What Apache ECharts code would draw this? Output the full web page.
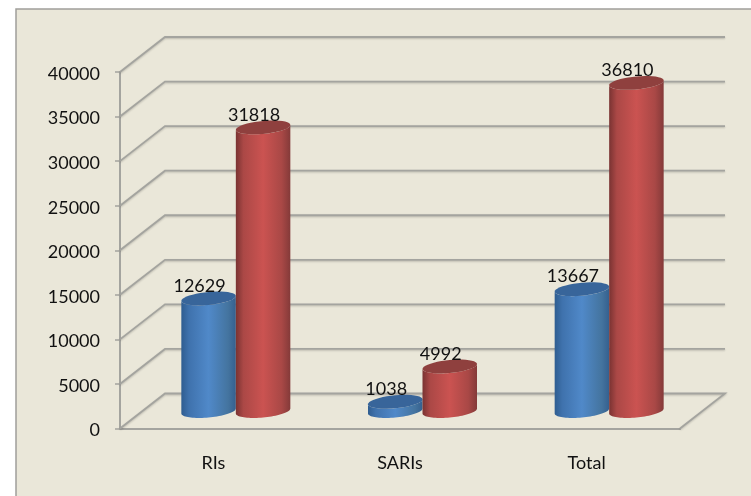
<!DOCTYPE html>
<html>
<head>
<meta charset="utf-8">
<style>
  html, body { margin: 0; padding: 0; background: #fff; }
  #chart { width: 751px; height: 496px; }
</style>
<script src="https://cdn.jsdelivr.net/npm/echarts@6/dist/echarts.min.js"></script>
</head>
<body>
<div id="chart"></div>
<script>
const categories = ['RIs', 'SARIs', 'Total'];
const blueValues = [12629, 1038, 13667];
const redValues = [31818, 4992, 36810];
const yTicks = [0, 5000, 10000, 15000, 20000, 25000, 30000, 35000, 40000];

// fake 3d: how far the back wall sits from the front axes
const DEPTH_X = 45;
const DEPTH_Y = -35;
const BAR_W = 54.5;
const RX = BAR_W / 2;
const RY = 6.5;
const TILT = -0.09;
const GRID_COLOR = '#a4a49f';
const FONT = 'Lato';

const ellipsePoints = (cx, cy, from, to) => {
  const pts = [];
  for (let i = 0; i <= 40; i++) {
    const t = from + ((to - from) * i) / 40;
    const x = RX * Math.cos(t);
    const y = RY * Math.sin(t);
    pts.push([cx + x, cy + y + x * TILT]);
  }
  return pts;
};

const sideGradient = (stops) => ({
  type: 'linear', x: 0, y: 0, x2: 1, y2: 0,
  colorStops: stops.map(([offset, color]) => ({ offset, color }))
});

const cylinder = (side, top, shift) => (params, api) => {
  const base = api.coord([api.value(0), 0]);
  const head = api.coord([api.value(0), api.value(1)]);
  const cx = base[0] + DEPTH_X / 2 + shift;
  const y0 = base[1] + DEPTH_Y / 2;
  const y1 = head[1] + DEPTH_Y / 2;
  const body = ellipsePoints(cx, y0, Math.PI, 0).concat(ellipsePoints(cx, y1, 0, Math.PI));
  return {
    type: 'group',
    children: [
      { type: 'polygon', shape: { points: body }, style: { fill: sideGradient(side) } },
      { type: 'polygon', shape: { points: ellipsePoints(cx, y1, 0, Math.PI * 2) }, style: { fill: top } },
      {
        type: 'text',
        style: {
          x: cx - 9,
          y: y1 - 12.7,
          text: String(api.value(1)),
          fill: '#111',
          font: '18px ' + FONT,
          align: 'center',
          verticalAlign: 'middle'
        }
      }
    ]
  };
};

const blueSide = [[0, '#2f5d90'], [0.14, '#3f72ad'], [0.5, '#5089c9'], [0.86, '#44749f'], [1, '#35608f']];
const redSide = [[0, '#7a3332'], [0.14, '#ab4846'], [0.5, '#cb5351'], [0.84, '#a94846'], [1, '#843a39']];

const chart = echarts.init(document.getElementById('chart'), null, { renderer: 'canvas' });

chart.setOption({
  animation: false,
  textStyle: { fontFamily: FONT },
  graphic: [
    {
      type: 'rect',
      z: -10,
      shape: { x: 16, y: 9, width: 760, height: 510 },
      style: { fill: '#eae7d9', stroke: '#a09f9a', lineWidth: 1.5 }
    }
  ],
  grid: { left: 120, right: 71, top: 72, bottom: 67.5 },
  xAxis: {
    type: 'category',
    data: categories,
    axisLine: { lineStyle: { color: GRID_COLOR, width: 2 } },
    axisTick: { length: 7, lineStyle: { color: GRID_COLOR, width: 1.5 } },
    axisLabel: { color: '#111', fontSize: 18, margin: 26, fontFamily: FONT }
  },
  yAxis: {
    type: 'value',
    min: 0,
    max: 40000,
    interval: 5000,
    splitLine: { show: false },
    axisLine: { show: true, lineStyle: { color: GRID_COLOR, width: 2 } },
    axisTick: { show: true, length: 5, lineStyle: { color: GRID_COLOR, width: 1.5 } },
    axisLabel: { color: '#111', fontSize: 18, margin: 20, lineHeight: 4, verticalAlign: 'top', fontFamily: FONT, formatter: (v) => String(v) }
  },
  series: [
    {
      // side wall + back wall lines for every y tick
      type: 'custom',
      silent: true,
      z: 1,
      data: yTicks.map((v) => [v]),
      encode: { y: 0 },
      renderItem: (params, api) => {
        const left = api.coord([0, api.value(0)]);
        const box = params.coordSys;
        const xa = box.x;
        const xb = box.x + box.width;
        return {
          type: 'polyline',
          shape: {
            points: [
              [xa, left[1]],
              [xa + DEPTH_X, left[1] + DEPTH_Y],
              [xb + DEPTH_X, left[1] + DEPTH_Y]
            ].concat(api.value(0) === 0 ? [[xb, left[1]]] : [])
          },
          style: { stroke: GRID_COLOR, lineWidth: 1.8, fill: null, shadowBlur: 2, shadowColor: 'rgba(0,0,0,0.2)', shadowOffsetY: 1 }
        };
      }
    },
    {
      name: 'blue',
      type: 'custom',
      z: 3,
      data: blueValues.map((v, i) => [i, v]),
      encode: { x: 0, y: 1 },
      renderItem: cylinder(blueSide, '#38659a', -RX)
    },
    {
      name: 'red',
      type: 'custom',
      z: 4,
      data: redValues.map((v, i) => [i, v]),
      encode: { x: 0, y: 1 },
      renderItem: cylinder(redSide, '#8f403e', RX)
    }
  ]
});
</script>
</body>
</html>
